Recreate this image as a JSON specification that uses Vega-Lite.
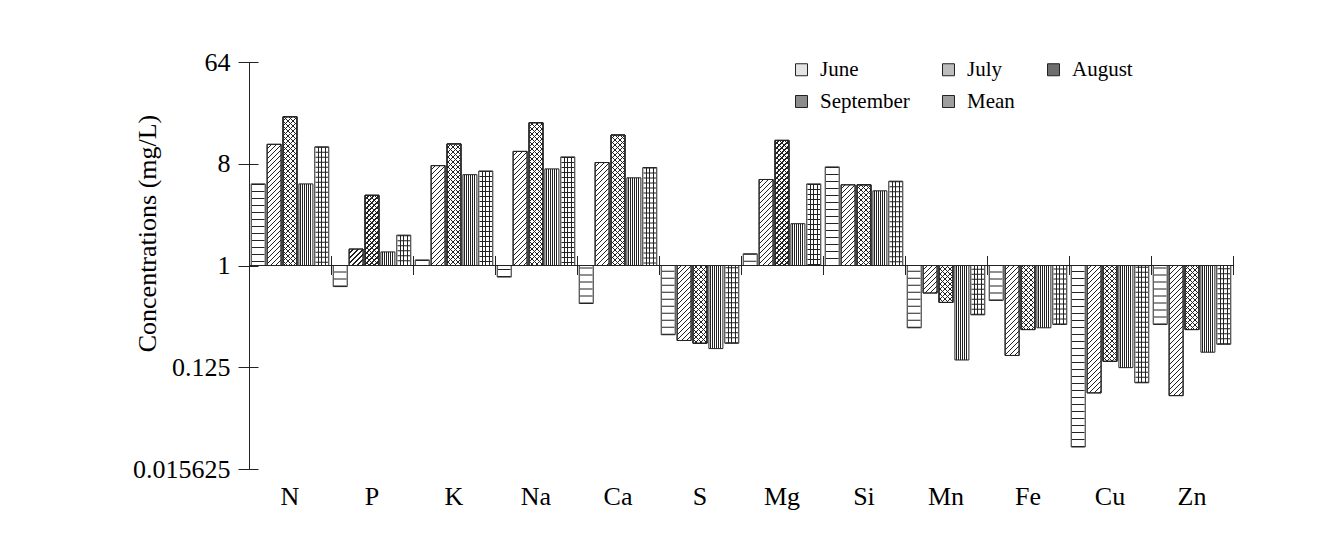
{
  "$schema": "https://vega.github.io/schema/vega-lite/v6.json",
  "width": 984,
  "height": 407,
  "autosize": "none",
  "padding": {"left": 249, "top": 62, "right": 105, "bottom": 73},
  "background": "#ffffff",
  "params": [
    {"name": "hatch", "value": [
      {"offset": 0, "color": "rgba(0,0,0,0)"}, {"offset": 0.02, "color": "rgba(0,0,0,0)"}, {"offset": 0.02, "color": "#222222"}, {"offset": 0.02778, "color": "#222222"},
      {"offset": 0.02778, "color": "rgba(0,0,0,0)"}, {"offset": 0.04778, "color": "rgba(0,0,0,0)"}, {"offset": 0.04778, "color": "#222222"}, {"offset": 0.05556, "color": "#222222"},
      {"offset": 0.05556, "color": "rgba(0,0,0,0)"}, {"offset": 0.07556, "color": "rgba(0,0,0,0)"}, {"offset": 0.07556, "color": "#222222"}, {"offset": 0.08333, "color": "#222222"},
      {"offset": 0.08333, "color": "rgba(0,0,0,0)"}, {"offset": 0.10333, "color": "rgba(0,0,0,0)"}, {"offset": 0.10333, "color": "#222222"}, {"offset": 0.11111, "color": "#222222"},
      {"offset": 0.11111, "color": "rgba(0,0,0,0)"}, {"offset": 0.13111, "color": "rgba(0,0,0,0)"}, {"offset": 0.13111, "color": "#222222"}, {"offset": 0.13889, "color": "#222222"},
      {"offset": 0.13889, "color": "rgba(0,0,0,0)"}, {"offset": 0.15889, "color": "rgba(0,0,0,0)"}, {"offset": 0.15889, "color": "#222222"}, {"offset": 0.16667, "color": "#222222"},
      {"offset": 0.16667, "color": "rgba(0,0,0,0)"}, {"offset": 0.18667, "color": "rgba(0,0,0,0)"}, {"offset": 0.18667, "color": "#222222"}, {"offset": 0.19444, "color": "#222222"},
      {"offset": 0.19444, "color": "rgba(0,0,0,0)"}, {"offset": 0.21444, "color": "rgba(0,0,0,0)"}, {"offset": 0.21444, "color": "#222222"}, {"offset": 0.22222, "color": "#222222"},
      {"offset": 0.22222, "color": "rgba(0,0,0,0)"}, {"offset": 0.24222, "color": "rgba(0,0,0,0)"}, {"offset": 0.24222, "color": "#222222"}, {"offset": 0.25, "color": "#222222"},
      {"offset": 0.25, "color": "rgba(0,0,0,0)"}, {"offset": 0.27, "color": "rgba(0,0,0,0)"}, {"offset": 0.27, "color": "#222222"}, {"offset": 0.27778, "color": "#222222"},
      {"offset": 0.27778, "color": "rgba(0,0,0,0)"}, {"offset": 0.29778, "color": "rgba(0,0,0,0)"}, {"offset": 0.29778, "color": "#222222"}, {"offset": 0.30556, "color": "#222222"},
      {"offset": 0.30556, "color": "rgba(0,0,0,0)"}, {"offset": 0.32556, "color": "rgba(0,0,0,0)"}, {"offset": 0.32556, "color": "#222222"}, {"offset": 0.33333, "color": "#222222"},
      {"offset": 0.33333, "color": "rgba(0,0,0,0)"}, {"offset": 0.35333, "color": "rgba(0,0,0,0)"}, {"offset": 0.35333, "color": "#222222"}, {"offset": 0.36111, "color": "#222222"},
      {"offset": 0.36111, "color": "rgba(0,0,0,0)"}, {"offset": 0.38111, "color": "rgba(0,0,0,0)"}, {"offset": 0.38111, "color": "#222222"}, {"offset": 0.38889, "color": "#222222"},
      {"offset": 0.38889, "color": "rgba(0,0,0,0)"}, {"offset": 0.40889, "color": "rgba(0,0,0,0)"}, {"offset": 0.40889, "color": "#222222"}, {"offset": 0.41667, "color": "#222222"},
      {"offset": 0.41667, "color": "rgba(0,0,0,0)"}, {"offset": 0.43667, "color": "rgba(0,0,0,0)"}, {"offset": 0.43667, "color": "#222222"}, {"offset": 0.44444, "color": "#222222"},
      {"offset": 0.44444, "color": "rgba(0,0,0,0)"}, {"offset": 0.46444, "color": "rgba(0,0,0,0)"}, {"offset": 0.46444, "color": "#222222"}, {"offset": 0.47222, "color": "#222222"},
      {"offset": 0.47222, "color": "rgba(0,0,0,0)"}, {"offset": 0.49222, "color": "rgba(0,0,0,0)"}, {"offset": 0.49222, "color": "#222222"}, {"offset": 0.5, "color": "#222222"},
      {"offset": 0.5, "color": "rgba(0,0,0,0)"}, {"offset": 0.52, "color": "rgba(0,0,0,0)"}, {"offset": 0.52, "color": "#222222"}, {"offset": 0.52778, "color": "#222222"},
      {"offset": 0.52778, "color": "rgba(0,0,0,0)"}, {"offset": 0.54778, "color": "rgba(0,0,0,0)"}, {"offset": 0.54778, "color": "#222222"}, {"offset": 0.55556, "color": "#222222"},
      {"offset": 0.55556, "color": "rgba(0,0,0,0)"}, {"offset": 0.57556, "color": "rgba(0,0,0,0)"}, {"offset": 0.57556, "color": "#222222"}, {"offset": 0.58333, "color": "#222222"},
      {"offset": 0.58333, "color": "rgba(0,0,0,0)"}, {"offset": 0.60333, "color": "rgba(0,0,0,0)"}, {"offset": 0.60333, "color": "#222222"}, {"offset": 0.61111, "color": "#222222"},
      {"offset": 0.61111, "color": "rgba(0,0,0,0)"}, {"offset": 0.63111, "color": "rgba(0,0,0,0)"}, {"offset": 0.63111, "color": "#222222"}, {"offset": 0.63889, "color": "#222222"},
      {"offset": 0.63889, "color": "rgba(0,0,0,0)"}, {"offset": 0.65889, "color": "rgba(0,0,0,0)"}, {"offset": 0.65889, "color": "#222222"}, {"offset": 0.66667, "color": "#222222"},
      {"offset": 0.66667, "color": "rgba(0,0,0,0)"}, {"offset": 0.68667, "color": "rgba(0,0,0,0)"}, {"offset": 0.68667, "color": "#222222"}, {"offset": 0.69444, "color": "#222222"},
      {"offset": 0.69444, "color": "rgba(0,0,0,0)"}, {"offset": 0.71444, "color": "rgba(0,0,0,0)"}, {"offset": 0.71444, "color": "#222222"}, {"offset": 0.72222, "color": "#222222"},
      {"offset": 0.72222, "color": "rgba(0,0,0,0)"}, {"offset": 0.74222, "color": "rgba(0,0,0,0)"}, {"offset": 0.74222, "color": "#222222"}, {"offset": 0.75, "color": "#222222"},
      {"offset": 0.75, "color": "rgba(0,0,0,0)"}, {"offset": 0.77, "color": "rgba(0,0,0,0)"}, {"offset": 0.77, "color": "#222222"}, {"offset": 0.77778, "color": "#222222"},
      {"offset": 0.77778, "color": "rgba(0,0,0,0)"}, {"offset": 0.79778, "color": "rgba(0,0,0,0)"}, {"offset": 0.79778, "color": "#222222"}, {"offset": 0.80556, "color": "#222222"},
      {"offset": 0.80556, "color": "rgba(0,0,0,0)"}, {"offset": 0.82556, "color": "rgba(0,0,0,0)"}, {"offset": 0.82556, "color": "#222222"}, {"offset": 0.83333, "color": "#222222"},
      {"offset": 0.83333, "color": "rgba(0,0,0,0)"}, {"offset": 0.85333, "color": "rgba(0,0,0,0)"}, {"offset": 0.85333, "color": "#222222"}, {"offset": 0.86111, "color": "#222222"},
      {"offset": 0.86111, "color": "rgba(0,0,0,0)"}, {"offset": 0.88111, "color": "rgba(0,0,0,0)"}, {"offset": 0.88111, "color": "#222222"}, {"offset": 0.88889, "color": "#222222"},
      {"offset": 0.88889, "color": "rgba(0,0,0,0)"}, {"offset": 0.90889, "color": "rgba(0,0,0,0)"}, {"offset": 0.90889, "color": "#222222"}, {"offset": 0.91667, "color": "#222222"},
      {"offset": 0.91667, "color": "rgba(0,0,0,0)"}, {"offset": 0.93667, "color": "rgba(0,0,0,0)"}, {"offset": 0.93667, "color": "#222222"}, {"offset": 0.94444, "color": "#222222"},
      {"offset": 0.94444, "color": "rgba(0,0,0,0)"}, {"offset": 0.96444, "color": "rgba(0,0,0,0)"}, {"offset": 0.96444, "color": "#222222"}, {"offset": 0.97222, "color": "#222222"},
      {"offset": 0.97222, "color": "rgba(0,0,0,0)"}, {"offset": 0.99222, "color": "rgba(0,0,0,0)"}, {"offset": 0.99222, "color": "#222222"}, {"offset": 1, "color": "#222222"},
      {"offset": 1, "color": "rgba(0,0,0,0)"}
    ]}
  ],
  "config": {
    "view": {"stroke": null},
    "font": "Liberation Serif",
    "axis": {"labelFont": "Liberation Serif", "titleFont": "Liberation Serif", "labelColor": "#000000", "titleColor": "#000000", "tickColor": "#222222", "domainColor": "#222222", "grid": false}
  },
  "data": {"values": [
    {"element": "N", "series": "June", "value": 5.3},
    {"element": "N", "series": "July", "value": 11.9},
    {"element": "N", "series": "August", "value": 20.9},
    {"element": "N", "series": "September", "value": 5.3},
    {"element": "N", "series": "Mean", "value": 11.3},
    {"element": "P", "series": "June", "value": 0.65},
    {"element": "P", "series": "July", "value": 1.4},
    {"element": "P", "series": "August", "value": 4.2},
    {"element": "P", "series": "September", "value": 1.32},
    {"element": "P", "series": "Mean", "value": 1.86},
    {"element": "K", "series": "June", "value": 1.12},
    {"element": "K", "series": "July", "value": 7.7},
    {"element": "K", "series": "August", "value": 12.0},
    {"element": "K", "series": "September", "value": 6.4},
    {"element": "K", "series": "Mean", "value": 6.9},
    {"element": "Na", "series": "June", "value": 0.79},
    {"element": "Na", "series": "July", "value": 10.3},
    {"element": "Na", "series": "August", "value": 18.5},
    {"element": "Na", "series": "September", "value": 7.2},
    {"element": "Na", "series": "Mean", "value": 9.2},
    {"element": "Ca", "series": "June", "value": 0.46},
    {"element": "Ca", "series": "July", "value": 8.2},
    {"element": "Ca", "series": "August", "value": 14.4},
    {"element": "Ca", "series": "September", "value": 6.0},
    {"element": "Ca", "series": "Mean", "value": 7.4},
    {"element": "S", "series": "June", "value": 0.243},
    {"element": "S", "series": "July", "value": 0.216},
    {"element": "S", "series": "August", "value": 0.204},
    {"element": "S", "series": "September", "value": 0.183},
    {"element": "S", "series": "Mean", "value": 0.204},
    {"element": "Mg", "series": "June", "value": 1.27},
    {"element": "Mg", "series": "July", "value": 5.8},
    {"element": "Mg", "series": "August", "value": 12.9},
    {"element": "Mg", "series": "September", "value": 2.35},
    {"element": "Mg", "series": "Mean", "value": 5.3},
    {"element": "Si", "series": "June", "value": 7.5},
    {"element": "Si", "series": "July", "value": 5.2},
    {"element": "Si", "series": "August", "value": 5.2},
    {"element": "Si", "series": "September", "value": 4.6},
    {"element": "Si", "series": "Mean", "value": 5.6},
    {"element": "Mn", "series": "June", "value": 0.28},
    {"element": "Mn", "series": "July", "value": 0.57},
    {"element": "Mn", "series": "August", "value": 0.47},
    {"element": "Mn", "series": "September", "value": 0.145},
    {"element": "Mn", "series": "Mean", "value": 0.365},
    {"element": "Fe", "series": "June", "value": 0.49},
    {"element": "Fe", "series": "July", "value": 0.159},
    {"element": "Fe", "series": "August", "value": 0.27},
    {"element": "Fe", "series": "September", "value": 0.28},
    {"element": "Fe", "series": "Mean", "value": 0.30},
    {"element": "Cu", "series": "June", "value": 0.0245},
    {"element": "Cu", "series": "July", "value": 0.074},
    {"element": "Cu", "series": "August", "value": 0.141},
    {"element": "Cu", "series": "September", "value": 0.124},
    {"element": "Cu", "series": "Mean", "value": 0.091},
    {"element": "Zn", "series": "June", "value": 0.30},
    {"element": "Zn", "series": "July", "value": 0.070},
    {"element": "Zn", "series": "August", "value": 0.27},
    {"element": "Zn", "series": "September", "value": 0.17},
    {"element": "Zn", "series": "Mean", "value": 0.20}
  ]},
  "resolve": {"axis": {"x": "independent", "y": "independent"}},
  "layer": [
    {
      "mark": {"type": "bar", "stroke": "#222222", "strokeWidth": 1},
      "encoding": {
        "x": {"field": "element", "type": "nominal", "sort": null,
              "scale": {"paddingInner": 0, "paddingOuter": 0},
              "axis": {"orient": "bottom", "title": null, "ticks": false, "domain": false, "labelAngle": 0, "labelPadding": 14, "labelFontSize": 26}},
        "xOffset": {"field": "series", "type": "nominal",
              "scale": {"domain": ["June", "July", "August", "September", "Mean"], "paddingInner": 0.12, "paddingOuter": 0.14}},
        "y": {"field": "value", "type": "quantitative",
              "scale": {"type": "log", "base": 2, "domain": [0.015625, 64], "nice": false},
              "axis": {"orient": "left", "values": [0.015625, 0.125, 1, 8, 64], "format": "~g", "offset": -9, "tickSize": 20, "domain": false, "labelPadding": 8, "labelFontSize": 26,
                       "title": "Concentrations (mg/L)", "titleFontSize": 26, "titleFontWeight": "normal", "titleX": -98, "titleY": 171, "titleAngle": -90, "titleAlign": "center", "titleBaseline": "bottom"}},
        "y2": {"datum": 1},
        "fill": {
          "field": "series", "type": "nominal",
          "condition": [
            {"test": "datum.series === 'June' || datum.series === 'July' || datum.series === 'August'", "value": "#ffffff"},
            {"test": "datum.series === 'September'", "value": {"gradient": "linear", "x1": 0, "y1": 0, "x2": 1, "y2": 0, "stops": [
                {"offset": 0, "color": "#ffffff"}, {"offset": 0.108, "color": "#ffffff"}, {"offset": 0.108, "color": "#222222"}, {"offset": 0.178, "color": "#222222"}, {"offset": 0.178, "color": "#ffffff"}, {"offset": 0.251, "color": "#ffffff"}, {"offset": 0.251, "color": "#222222"}, {"offset": 0.321, "color": "#222222"}, {"offset": 0.321, "color": "#ffffff"}, {"offset": 0.394, "color": "#ffffff"}, {"offset": 0.394, "color": "#222222"}, {"offset": 0.464, "color": "#222222"}, {"offset": 0.464, "color": "#ffffff"}, {"offset": 0.536, "color": "#ffffff"}, {"offset": 0.536, "color": "#222222"}, {"offset": 0.606, "color": "#222222"}, {"offset": 0.606, "color": "#ffffff"}, {"offset": 0.679, "color": "#ffffff"}, {"offset": 0.679, "color": "#222222"}, {"offset": 0.749, "color": "#222222"}, {"offset": 0.749, "color": "#ffffff"}, {"offset": 0.822, "color": "#ffffff"}, {"offset": 0.822, "color": "#222222"}, {"offset": 0.892, "color": "#222222"}, {"offset": 0.892, "color": "#ffffff"}, {"offset": 1, "color": "#ffffff"}]}},
            {"test": "datum.series === 'Mean'", "value": {"gradient": "linear", "x1": 0, "y1": 0, "x2": 1, "y2": 0, "stops": [
                {"offset": 0, "color": "#ffffff"}, {"offset": 0.21, "color": "#ffffff"}, {"offset": 0.21, "color": "#222222"}, {"offset": 0.29, "color": "#222222"}, {"offset": 0.29, "color": "#ffffff"}, {"offset": 0.46, "color": "#ffffff"}, {"offset": 0.46, "color": "#222222"}, {"offset": 0.54, "color": "#222222"}, {"offset": 0.54, "color": "#ffffff"}, {"offset": 0.71, "color": "#ffffff"}, {"offset": 0.71, "color": "#222222"}, {"offset": 0.79, "color": "#222222"}, {"offset": 0.79, "color": "#ffffff"}, {"offset": 1, "color": "#ffffff"}]}}
          ],
          "scale": {
            "domain": ["June", "July", "August", "September", "Mean"],
            "range": ["#e4e4e4", "#bdbdbd", "#6e6e6e", "#8c8c8c", "#9e9e9e"]
          },
          "legend": {"orient": "none", "legendX": 542, "legendY": -3, "columns": 3, "direction": "horizontal", "title": null, "padding": 0,
                     "symbolType": "square", "symbolSize": 144, "symbolStrokeColor": "#222222", "symbolStrokeWidth": 1,
                     "labelFont": "Liberation Serif", "labelFontSize": 21, "labelColor": "#000000", "labelOffset": 8,
                     "columnPadding": 28, "rowPadding": 10}
        }
      }
    },
    {
      "transform": [{"filter": "datum.series === 'July' || datum.series === 'August'"}],
      "mark": {"type": "bar", "stroke": "#222222", "strokeWidth": 1,
               "fill": {"expr": "{gradient: 'linear', x1: 0, y1: 0, x2: bandwidth('xOffset') * 180 / (pow(bandwidth('xOffset'), 2) + pow(scale('y', datum.value) - scale('y', 1), 2)), y2: abs(scale('y', datum.value) - scale('y', 1)) * 180 / (pow(bandwidth('xOffset'), 2) + pow(scale('y', datum.value) - scale('y', 1), 2)), stops: hatch}"}},
      "encoding": {
        "x": {"field": "element", "type": "nominal", "sort": null, "axis": null},
        "xOffset": {"field": "series", "type": "nominal"},
        "y": {"field": "value", "type": "quantitative", "axis": null},
        "y2": {"datum": 1}
      }
    },
    {
      "transform": [{"filter": "datum.series === 'August'"}],
      "mark": {"type": "bar", "stroke": "#222222", "strokeWidth": 1,
               "fill": {"expr": "{gradient: 'linear', x1: 0, y1: 1, x2: bandwidth('xOffset') * 180 / (pow(bandwidth('xOffset'), 2) + pow(scale('y', datum.value) - scale('y', 1), 2)), y2: 1 - abs(scale('y', datum.value) - scale('y', 1)) * 180 / (pow(bandwidth('xOffset'), 2) + pow(scale('y', datum.value) - scale('y', 1), 2)), stops: hatch}"}},
      "encoding": {
        "x": {"field": "element", "type": "nominal", "sort": null, "axis": null},
        "xOffset": {"field": "series", "type": "nominal"},
        "y": {"field": "value", "type": "quantitative", "axis": null},
        "y2": {"datum": 1}
      }
    },
    {
      "transform": [{"filter": "datum.series === 'June' || datum.series === 'Mean'"}],
      "mark": {"type": "rule", "color": "#222222", "strokeWidth": 12.5},
      "encoding": {
        "x": {"field": "element", "type": "nominal", "sort": null,
              "axis": {"orient": "bottom", "offset": {"expr": "scale('y', 1) - height - 10"}, "tickSize": 19, "tickBand": "extent", "labels": false, "domain": false, "title": null}},
        "xOffset": {"field": "series", "type": "nominal"},
        "y": {"field": "value", "type": "quantitative",
              "axis": {"orient": "left", "domain": true, "ticks": false, "labels": false, "title": null}},
        "y2": {"datum": 1},
        "strokeDash": {"field": "series", "type": "nominal", "scale": {"domain": ["June", "Mean"], "range": [[1, 6], [1, 4]]}, "legend": null}
      }
    },
    {
      "mark": {"type": "rule", "color": "#222222", "strokeWidth": 1.2},
      "encoding": {
        "y": {"datum": 1, "type": "quantitative", "axis": null}
      }
    }
  ]
}
